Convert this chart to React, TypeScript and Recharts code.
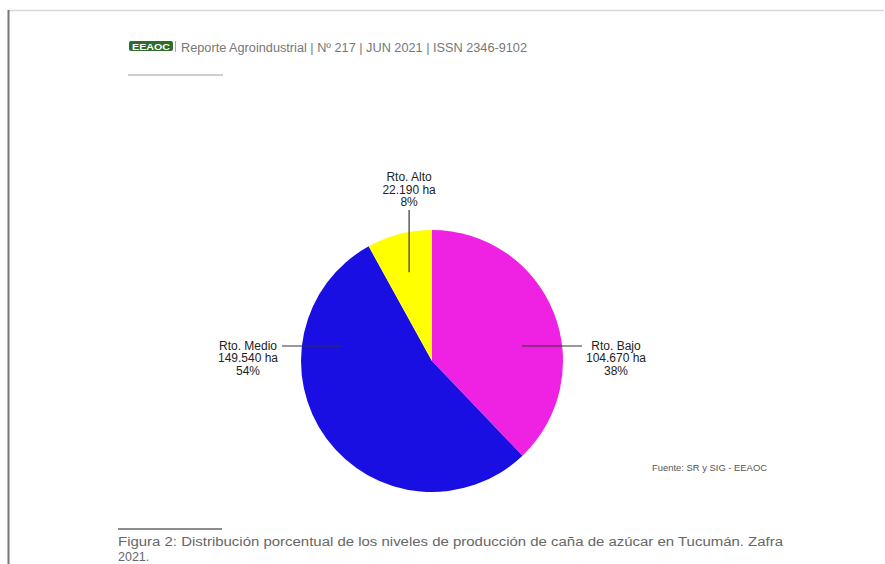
import React from "react";
import { PieChart, Pie, Cell } from "recharts";

const categories = ["Rto. Bajo", "Rto. Medio", "Rto. Alto"];
const hectares = [104670, 149540, 22190];
const colors = ["#EF22E4", "#1A0FE3", "#FFFF00"];

const headerText = "Reporte Agroindustrial | Nº 217 | JUN 2021 | ISSN 2346-9102";
const sourceText = "Fuente: SR y SIG - EEAOC";
const captionLine1 =
  "Figura 2: Distribución porcentual de los niveles de producción de caña de azúcar en Tucumán. Zafra";
const captionLine2 = "2021.";

const data = categories.map((name, i) => ({ name, value: hectares[i] }));

const fmt = (v: number) => v.toLocaleString("de-DE") + " ha";

const RAD = Math.PI / 180;

const renderLabel = (props: any) => {
  const { cx, cy, midAngle, outerRadius, index, value, percent, name } = props;
  const lines = [name, fmt(value), Math.round(percent * 100) + "%"];
  const color = "#222";
  const fs = 12;
  if (index === 2) {
    const r = outerRadius * 0.7;
    const x = cx + r * Math.cos(-midAngle * RAD);
    const y = cy + r * Math.sin(-midAngle * RAD);
    const top = cy - outerRadius - 20;
    return (
      <g>
        <line x1={x} y1={y} x2={x} y2={top} stroke="#333" strokeWidth={1.2} />
        {lines.map((t, k) => (
          <text key={k} x={x} y={top - 29 + k * 12.5} textAnchor="middle" fontSize={fs} fill={color} fontFamily="Liberation Sans, Arial, sans-serif">
            {t}
          </text>
        ))}
      </g>
    );
  }
  const side = index === 0 ? 1 : -1;
  const ly = cy - 15;
  const x1 = cx + side * 90;
  const x2 = cx + side * 150;
  const tx = cx + side * 184;
  return (
    <g>
      <line x1={x1} y1={ly} x2={x2} y2={ly} stroke="#333" strokeWidth={1.2} />
      {lines.map((t, k) => (
        <text key={k} x={tx} y={ly + 3.5 + k * 12.5} textAnchor="middle" fontSize={fs} fill={color} fontFamily="Liberation Sans, Arial, sans-serif">
          {t}
        </text>
      ))}
    </g>
  );
};

export default function App() {
  return (
    <div style={{ position: "absolute", left: 0, top: 0, width: 885, height: 564, background: "#fff", overflow: "hidden" }}>
      <svg width={885} height={564} style={{ position: "absolute", left: 0, top: 0 }}>
        <line x1={8} y1={10.5} x2={884} y2={10.5} stroke="#d8d8d8" strokeWidth={1.5} />
        <line x1={8.5} y1={10} x2={8.5} y2={564} stroke="#777" strokeWidth={2} />
        <rect x={129} y={41} width={44} height={10} rx={2} fill="#2f6b2a" />
        <text x={151} y={49.5} textAnchor="middle" fontSize={9} fontWeight="bold" fill="#fff" fontFamily="Liberation Sans, Arial, sans-serif" textLength={38} lengthAdjust="spacingAndGlyphs">
          EEAOC
        </text>
        <line x1={175.5} y1={41} x2={175.5} y2={52} stroke="#e0a020" strokeWidth={1} />
        <text x={181} y={52} fontSize={12} fill="#777" fontFamily="Liberation Sans, Arial, sans-serif" textLength={346} lengthAdjust="spacingAndGlyphs">
          {headerText}
        </text>
        <line x1={128} y1={75} x2={223} y2={75} stroke="#cfcfcf" strokeWidth={2} />
        <text x={652} y={471} fontSize={9} fill="#555" fontFamily="Liberation Sans, Arial, sans-serif" textLength={115} lengthAdjust="spacingAndGlyphs">
          {sourceText}
        </text>
        <line x1={118} y1={529} x2={222} y2={529} stroke="#666" strokeWidth={1.5} />
        <text x={118} y={546} fontSize={12.5} fill="#666" fontFamily="Liberation Sans, Arial, sans-serif" textLength={665} lengthAdjust="spacingAndGlyphs">
          {captionLine1}
        </text>
        <text x={118} y={561} fontSize={12.5} fill="#666" fontFamily="Liberation Sans, Arial, sans-serif">
          {captionLine2}
        </text>
      </svg>
      <div style={{ position: "absolute", left: 0, top: 0 }}>
        <PieChart width={885} height={564} margin={{ top: 0, right: 0, bottom: 0, left: 0 }}>
          <Pie
            data={data}
            dataKey="value"
            nameKey="name"
            cx={432}
            cy={361}
            outerRadius={131}
            startAngle={90}
            endAngle={-270}
            stroke="none"
            labelLine={false}
            label={renderLabel}
            isAnimationActive={false}
          >
            {data.map((d, i) => (
              <Cell key={d.name} fill={colors[i]} />
            ))}
          </Pie>
        </PieChart>
      </div>
    </div>
  );
}
